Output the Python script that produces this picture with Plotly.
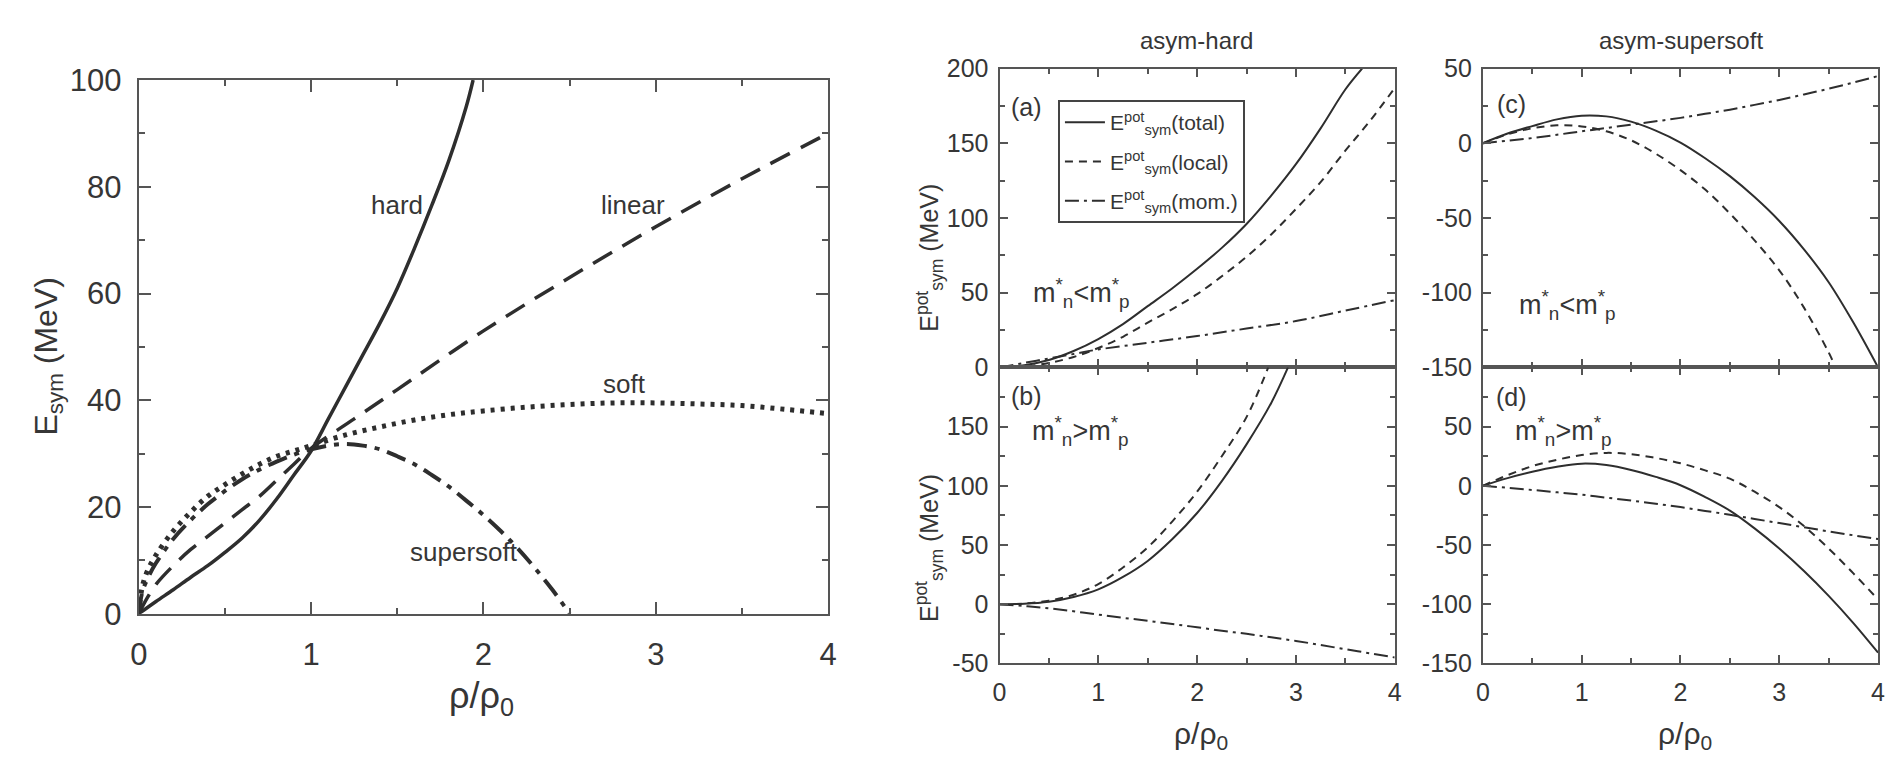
import plotly.graph_objects as go

TXT = "#363636"
LINE = "#2e2e2e"
FRAME = "#555555"
FONT = "Liberation Sans, Arial, sans-serif"

# ---------------- left panel data ----------------
hard_x = [0, 0.1, 0.2, 0.3, 0.4, 0.5, 0.6, 0.7, 0.8, 0.9, 1.0, 1.1, 1.2, 1.3, 1.4, 1.5, 1.6, 1.7, 1.8, 1.9, 1.94]
hard_y = [0, 2.3, 4.5, 6.8, 9.0, 11.5, 14.2, 17.5, 21.5, 26, 30.5, 36.5, 42.5, 48.5, 54.5, 61, 68.5, 76.5, 85, 95, 100]

linear_x = [0, 0.05, 0.1, 0.2, 0.3, 0.4, 0.5, 0.6, 0.7, 0.8, 0.9, 1.0, 1.25, 1.5, 2, 2.5, 3, 3.5, 4]
linear_y = [0, 3, 5.5, 9, 12, 14.5, 17, 19.5, 22, 25, 28, 31, 36.5, 42, 53, 63, 72.5, 81.5, 90]

soft_x = [0, 0.02, 0.05, 0.1, 0.2, 0.3, 0.4, 0.5, 0.6, 0.7, 0.8, 0.9, 1.0, 1.2, 1.4, 1.6, 1.8, 2.0, 2.25, 2.5, 2.75, 3.0, 3.25, 3.5, 3.75, 4.0]
soft_y = [0, 5, 8, 11, 15.5, 19, 22, 24.2, 26.2, 28, 29.5, 30.5, 31.5, 33.5, 35, 36.3, 37.3, 38, 38.7, 39.2, 39.5, 39.5, 39.3, 39, 38.3, 37.5]

supersoft_x = [0, 0.02, 0.05, 0.1, 0.2, 0.3, 0.4, 0.5, 0.6, 0.7, 0.8, 0.9, 1.0, 1.1, 1.2, 1.3, 1.4, 1.5, 1.6, 1.7, 1.8, 1.9, 2.0, 2.1, 2.2, 2.3, 2.4, 2.5]
supersoft_y = [0, 4, 6.5, 9.5, 14, 17.5, 20.5, 23, 25.2, 27, 28.5, 29.8, 30.8, 31.5, 31.8, 31.5, 30.8, 29.5, 28, 26, 23.8, 21.2, 18.5, 15.5, 12.2, 8.5, 4.5, 0]

# ---------------- right panels data ----------------
rx = [0, 0.25, 0.5, 0.75, 1, 1.25, 1.5, 1.75, 2, 2.25, 2.5, 2.75, 3, 3.25, 3.5, 3.75, 4]

# (a) asym-hard, m*n < m*p
a_total_x = [0, 0.25, 0.5, 0.75, 1, 1.25, 1.5, 1.75, 2, 2.25, 2.5, 2.75, 3, 3.25, 3.5, 3.67]
a_total_y = [0, 1.5, 5, 11, 19, 29, 41, 53, 66, 80, 96, 115, 136, 160, 186, 200]
a_local_y = [0, 0.5, 3, 7, 13, 20.5, 30, 39, 49, 61, 74, 89, 106, 124, 145, 165, 187]
a_mom_x = [0, 0.25, 0.5, 0.75, 1, 1.5, 2, 2.5, 3, 3.5, 4]
a_mom_y = [0, 3, 6, 9, 12, 16.5, 21, 26, 31, 38, 45]

# (b) asym-hard, m*n > m*p
b_total_x = [0, 0.25, 0.5, 0.75, 1, 1.25, 1.5, 1.75, 2, 2.25, 2.5, 2.75, 2.92]
b_total_y = [0, 0.3, 2, 6, 12.5, 23, 36.5, 55, 77, 104, 135, 170, 200]
b_local_x = [0, 0.25, 0.5, 0.75, 1, 1.25, 1.5, 1.75, 2, 2.25, 2.5, 2.72]
b_local_y = [0, 0.5, 3, 8, 17, 31, 48, 70, 95, 125, 158, 200]
b_mom_y = [0, -1.5, -3.5, -6, -8.8, -11.5, -14, -16.8, -19.5, -22.5, -25, -28, -31, -34.5, -38, -41.5, -45]

# (c) asym-supersoft, m*n < m*p
c_total_y = [0, 6.5, 11.5, 16, 18.5, 18, 14.5, 8.5, 0.5, -10, -22, -36, -52, -71, -93, -120, -150]
c_local_x = [0, 0.25, 0.5, 0.75, 1, 1.25, 1.5, 1.75, 2, 2.25, 2.5, 2.75, 3, 3.25, 3.5, 3.57]
c_local_y = [0, 6, 10, 12, 11.3, 8, 2, -7, -18, -31, -47, -65, -85, -110, -140, -150]
c_mom_y = [0, 1.7, 3.5, 5.7, 8, 10.2, 12.5, 14.7, 17, 19.7, 22.5, 25.7, 29, 32.7, 36.5, 40.7, 45]

# (d) asym-supersoft, m*n > m*p
d_total_y = [0, 6.5, 11.8, 16, 18.7, 17.5, 13.4, 7.5, 0.5, -9.5, -21, -36, -53, -72, -93, -116, -141]
d_local_y = [0, 9, 16.6, 22, 26, 27.8, 26.7, 23.5, 19, 13, 6, -5, -18, -34, -53, -74, -96]
d_mom_y = [0, -1.7, -3.5, -5.5, -7.5, -10, -12.5, -15.2, -18, -21.2, -24.5, -28, -31.5, -35, -38.5, -41.8, -45]

# tick labels
left_xticks = [0, 1, 2, 3, 4]
left_yticks = [0, 20, 40, 60, 80, 100]
a_yticks = [0, 50, 100, 150, 200]
b_yticks = [-50, 0, 50, 100, 150]
c_yticks = [-150, -100, -50, 0, 50]
d_yticks = [-150, -100, -50, 0, 50]

W, H = 1895, 774


def px_x(a, b):
    return [a / W, b / W]


def px_y(top, bottom):
    return [1 - bottom / H, 1 - top / H]


def axis(domain, rng, anchor, tickvals, show, size, tlen, mlen, mdtick, standoff, tw=2):
    return dict(
        domain=domain, range=rng, anchor=anchor, tickvals=tickvals,
        ticktext=[str(v) for v in tickvals],
        showticklabels=show, ticks="inside", ticklen=tlen, tickwidth=tw,
        tickcolor=FRAME, showline=True, linecolor=FRAME, linewidth=2,
        mirror="ticks", showgrid=False, zeroline=False,
        ticklabelstandoff=standoff,
        tickfont=dict(size=size, color=TXT, family=FONT),
        minor=dict(dtick=mdtick, tick0=0, ticks="inside", ticklen=mlen,
                   tickwidth=tw, tickcolor=FRAME, showgrid=False),
    )


fig = go.Figure()

# left panel traces
fig.add_trace(go.Scatter(x=hard_x, y=hard_y, mode="lines", xaxis="x", yaxis="y",
                         line=dict(color=LINE, width=3.5, shape="spline"), showlegend=False))
fig.add_trace(go.Scatter(x=linear_x, y=linear_y, mode="lines", xaxis="x", yaxis="y",
                         line=dict(color=LINE, width=3.5, dash="22px,12px", shape="spline"), showlegend=False))
fig.add_trace(go.Scatter(x=soft_x, y=soft_y, mode="lines", xaxis="x", yaxis="y",
                         line=dict(color=LINE, width=5, dash="4px,6px", shape="spline"), showlegend=False))
fig.add_trace(go.Scatter(x=supersoft_x, y=supersoft_y, mode="lines", xaxis="x", yaxis="y",
                         line=dict(color=LINE, width=4, dash="20px,8px,5px,8px", shape="spline"), showlegend=False))

SOLID = dict(color=LINE, width=2, shape="spline")
DASH = dict(color=LINE, width=2, dash="8px,6px", shape="spline")
DDOT = dict(color=LINE, width=2, dash="14px,5px,3px,5px", shape="spline")

# (a)
fig.add_trace(go.Scatter(x=a_total_x, y=a_total_y, mode="lines", xaxis="x2", yaxis="y2", line=SOLID,
                         name="E<sup>pot</sup><sub>sym</sub>(total)", legendgroup="g1"))
fig.add_trace(go.Scatter(x=rx, y=a_local_y, mode="lines", xaxis="x2", yaxis="y2", line=DASH,
                         name="E<sup>pot</sup><sub>sym</sub>(local)", legendgroup="g2"))
fig.add_trace(go.Scatter(x=a_mom_x, y=a_mom_y, mode="lines", xaxis="x2", yaxis="y2", line=DDOT,
                         name="E<sup>pot</sup><sub>sym</sub>(mom.)", legendgroup="g3"))
# (b)
fig.add_trace(go.Scatter(x=b_total_x, y=b_total_y, mode="lines", xaxis="x3", yaxis="y3", line=SOLID, showlegend=False))
fig.add_trace(go.Scatter(x=b_local_x, y=b_local_y, mode="lines", xaxis="x3", yaxis="y3", line=DASH, showlegend=False))
fig.add_trace(go.Scatter(x=rx, y=b_mom_y, mode="lines", xaxis="x3", yaxis="y3", line=DDOT, showlegend=False))
# (c)
fig.add_trace(go.Scatter(x=rx, y=c_total_y, mode="lines", xaxis="x4", yaxis="y4", line=SOLID, showlegend=False))
fig.add_trace(go.Scatter(x=c_local_x, y=c_local_y, mode="lines", xaxis="x4", yaxis="y4", line=DASH, showlegend=False))
fig.add_trace(go.Scatter(x=rx, y=c_mom_y, mode="lines", xaxis="x4", yaxis="y4", line=DDOT, showlegend=False))
# (d)
fig.add_trace(go.Scatter(x=rx, y=d_total_y, mode="lines", xaxis="x5", yaxis="y5", line=SOLID, showlegend=False))
fig.add_trace(go.Scatter(x=rx, y=d_local_y, mode="lines", xaxis="x5", yaxis="y5", line=DASH, showlegend=False))
fig.add_trace(go.Scatter(x=rx, y=d_mom_y, mode="lines", xaxis="x5", yaxis="y5", line=DDOT, showlegend=False))

LX = px_x(131, 827)
LY = px_y(66, 625)
AX = px_x(1000, 1399)
CX = px_x(1488, 1887)
TOPY = px_y(54, 367)
BOTY = px_y(367, 677)

fig.update_layout(
    width=W, height=H,
    margin=dict(l=0, r=0, t=0, b=0),
    paper_bgcolor="white", plot_bgcolor="white",
    font=dict(family=FONT, color=TXT),
    xaxis=axis(LX, [0, 4], "y", left_xticks, True, 31, 12, 6, 0.5, 12),
    yaxis=axis(LY, [0, 100], "x", left_yticks, True, 31, 12, 6, 10, 9),
    xaxis2=axis(AX, [0, 4], "y2", left_xticks, False, 25, 8, 5, 0.5, 6),
    yaxis2=axis(TOPY, [0, 200], "x2", a_yticks, True, 25, 8, 5, 25, 4),
    xaxis3=axis(AX, [0, 4], "y3", left_xticks, True, 25, 8, 5, 0.5, 6),
    yaxis3=axis(BOTY, [-50, 200], "x3", b_yticks, True, 25, 8, 5, 25, 4),
    xaxis4=axis(CX, [0, 4], "y4", left_xticks, False, 25, 8, 5, 0.5, 6),
    yaxis4=axis(TOPY, [-150, 50], "x4", c_yticks, True, 25, 8, 5, 25, 4),
    xaxis5=axis(CX, [0, 4], "y5", left_xticks, True, 25, 8, 5, 0.5, 6),
    yaxis5=axis(BOTY, [-150, 100], "x5", d_yticks, True, 25, 8, 5, 25, 4),
    showlegend=True,
    legend=dict(x=1059 / W, y=1 - 87 / H, xanchor="left", yanchor="top",
                bordercolor="#444", borderwidth=2, bgcolor="white",
                font=dict(size=21, color=TXT, family=FONT), tracegroupgap=9,
                itemwidth=40),
)

ann = []


def note(text, x, y, xref, yref, size, **kw):
    d = dict(text=text, x=x, y=y, xref=xref, yref=yref, showarrow=False,
             xanchor="center", yanchor="middle",
             font=dict(size=size, color=TXT, family=FONT))
    d.update(kw)
    ann.append(d)


# left panel labels
note("hard", 1.5, 76.5, "x", "y", 26)
note("linear", 2.87, 76.5, "x", "y", 26)
note("soft", 2.82, 43, "x", "y", 26)
note("supersoft", 1.89, 11.5, "x", "y", 26)
note("ρ/ρ<sub>0</sub>", 477 / W, 1 - 713 / H, "paper", "paper", 36)
note("E<sub>sym</sub> (MeV)", 40 / W, 1 - 356 / H, "paper", "paper", 32, textangle=-90)

# right panels
note("asym-hard", 1199 / W, 1 - 25 / H, "paper", "paper", 24)
note("asym-supersoft", 1688 / W, 1 - 25 / H, "paper", "paper", 24)
note("(a)", 0.27, 174, "x2", "y2", 25)
note("(b)", 0.27, 176, "x3", "y3", 25)
note("(c)", 0.29, 26, "x4", "y4", 25)
note("(d)", 0.29, 75, "x5", "y5", 25)
note("m<sup>*</sup><sub>n</sub><m<sup>*</sup><sub>p</sub>", 0.83, 50, "x2", "y2", 27)
note("m<sup>*</sup><sub>n</sub>>m<sup>*</sup><sub>p</sub>", 0.82, 146, "x3", "y3", 27)
note("m<sup>*</sup><sub>n</sub><m<sup>*</sup><sub>p</sub>", 0.86, -108, "x4", "y4", 27)
note("m<sup>*</sup><sub>n</sub>>m<sup>*</sup><sub>p</sub>", 0.82, 46, "x5", "y5", 27)
note("ρ/ρ<sub>0</sub>", 1203 / W, 1 - 753 / H, "paper", "paper", 30)
note("ρ/ρ<sub>0</sub>", 1692 / W, 1 - 753 / H, "paper", "paper", 30)
note("E<sup>pot</sup><sub>sym</sub> (MeV)", 929 / W, 1 - 252 / H, "paper", "paper", 25, textangle=-90)
note("E<sup>pot</sup><sub>sym</sub> (MeV)", 929 / W, 1 - 556 / H, "paper", "paper", 25, textangle=-90)

fig.update_layout(annotations=ann)

fig.write_html("out.html")
